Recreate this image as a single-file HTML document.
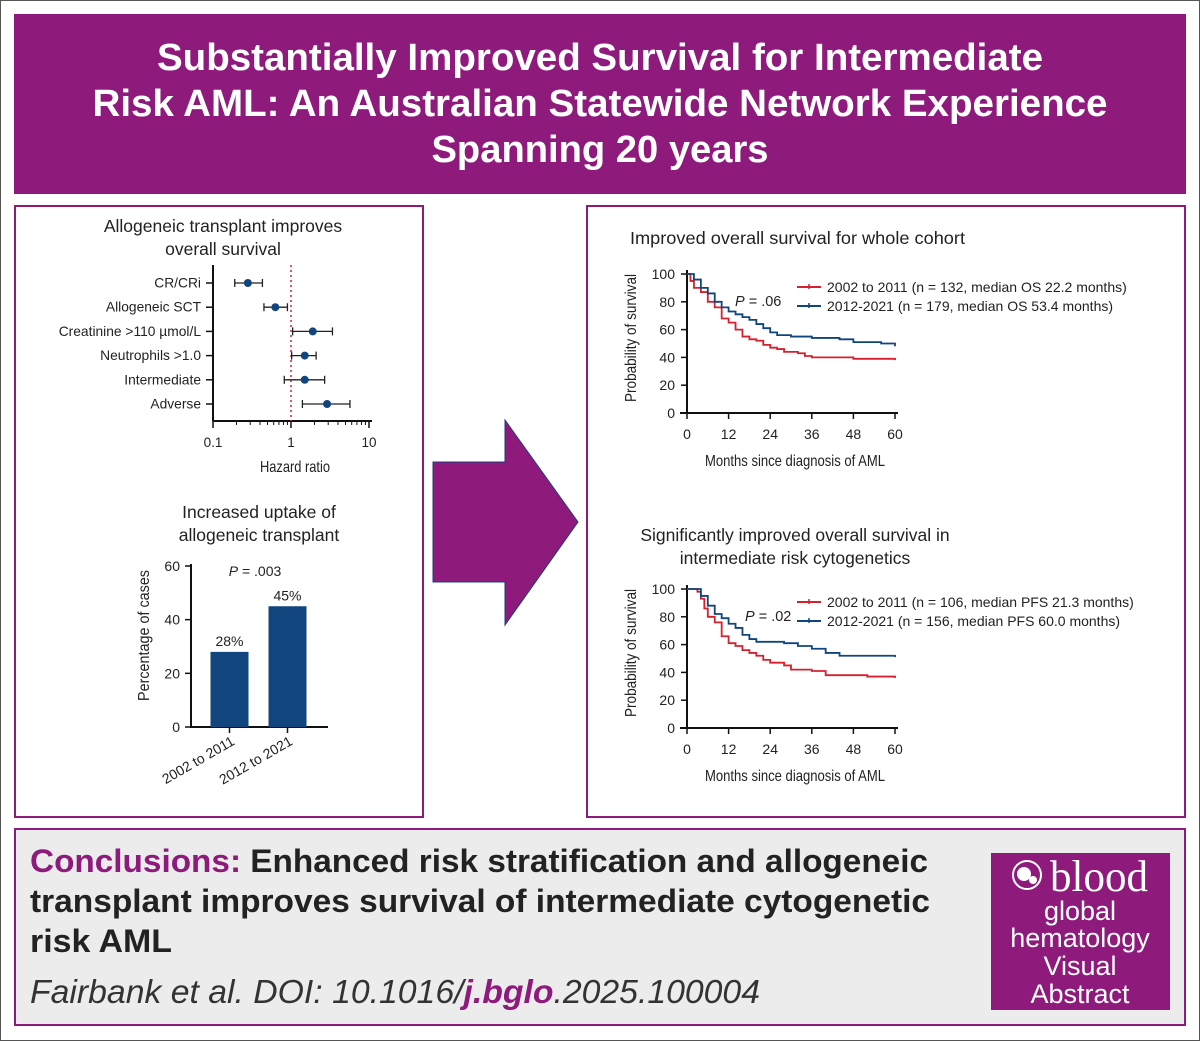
<!DOCTYPE html>
<html><head><meta charset="utf-8"><style>
html,body{margin:0;padding:0;background:#fff}
svg{display:block}
text{font-family:"Liberation Sans",sans-serif}
</style></head><body>
<svg id="s" width="1200" height="1041" viewBox="0 0 1200 1041" xmlns="http://www.w3.org/2000/svg">
<rect x="0.5" y="0.5" width="1199" height="1040" fill="#fff" stroke="#555"/>
<g>
<rect x="14" y="14" width="1172" height="180" fill="#8e1a7c"/>
<text x="600" y="70" text-anchor="middle" font-size="38" font-weight="bold" fill="#fff" textLength="886" lengthAdjust="spacingAndGlyphs">Substantially Improved Survival for Intermediate</text>
<text x="600" y="116" text-anchor="middle" font-size="38" font-weight="bold" fill="#fff" textLength="1015" lengthAdjust="spacingAndGlyphs">Risk AML: An Australian Statewide Network Experience</text>
<text x="600" y="162" text-anchor="middle" font-size="38" font-weight="bold" fill="#fff" textLength="337" lengthAdjust="spacingAndGlyphs">Spanning 20 years</text>
</g>
<rect x="15" y="206" width="408" height="611" fill="none" stroke="#8e1a7c" stroke-width="2"/>
<rect x="587" y="206" width="598" height="611" fill="none" stroke="#8e1a7c" stroke-width="2"/>
<path d="M433 462 H505 V420 L578 522 L505 625 V582 H433 Z" fill="#8e1a7c" stroke="#1a3f7a" stroke-width="1"/>

<g>
<text x="223" y="232" text-anchor="middle" font-size="17.5" fill="#222">Allogeneic transplant improves</text>
<text x="223" y="255" text-anchor="middle" font-size="17.5" fill="#222">overall survival</text>
<g id="forest"></g>
<text x="260" y="472" font-size="16" fill="#222" textLength="70" lengthAdjust="spacingAndGlyphs">Hazard ratio</text>
</g>

<g>
<text x="259" y="518" text-anchor="middle" font-size="17.5" fill="#222">Increased uptake of</text>
<text x="259" y="541" text-anchor="middle" font-size="17.5" fill="#222">allogeneic transplant</text>
<g id="bars"></g>
<text x="255" y="576" text-anchor="middle" font-size="14" fill="#222"><tspan font-style="italic">P</tspan> = .003</text>
<text transform="translate(149,701) rotate(-90)" font-size="16" fill="#222" textLength="131" lengthAdjust="spacingAndGlyphs">Percentage of cases</text>
</g>

<g>
<text x="630" y="244" font-size="17.5" fill="#222" textLength="335" lengthAdjust="spacingAndGlyphs">Improved overall survival for whole cohort</text>
<g id="km1"></g>
</g>
<g>
<text x="795" y="541" text-anchor="middle" font-size="17.5" fill="#222">Significantly improved overall survival in</text>
<text x="795" y="564" text-anchor="middle" font-size="17.5" fill="#222">intermediate risk cytogenetics</text>
<g id="km2"></g>
</g>

<g>
<rect x="15" y="829" width="1170" height="196" fill="#ececec" stroke="#8e1a7c" stroke-width="2"/>
<text x="30" y="872" font-size="32" font-weight="bold" fill="#222" textLength="898" lengthAdjust="spacingAndGlyphs"><tspan fill="#8e1a7c">Conclusions:</tspan> Enhanced risk stratification and allogeneic</text>
<text x="30" y="912" font-size="32" font-weight="bold" fill="#222" textLength="900" lengthAdjust="spacingAndGlyphs">transplant improves survival of intermediate cytogenetic</text>
<text x="30" y="952" font-size="32" font-weight="bold" fill="#222" textLength="142" lengthAdjust="spacingAndGlyphs">risk AML</text>
<text x="30" y="1003" font-size="33" font-style="italic" fill="#333" textLength="730" lengthAdjust="spacingAndGlyphs">Fairbank et al. DOI: 10.1016/<tspan font-weight="bold" fill="#8e1a7c">j.bglo</tspan>.2025.100004</text>
</g>
<g>
<rect x="991" y="853" width="179" height="157" fill="#8e1a7c"/>
<circle cx="1027" cy="875" r="14" fill="none" stroke="#fff" stroke-width="2"/>
<circle cx="1024" cy="874" r="7" fill="#fff"/>
<circle cx="1033" cy="880" r="4" fill="#fff"/>
<text x="1050" y="891" font-size="44" fill="#fff" style="font-family:'Liberation Serif',serif" textLength="98" lengthAdjust="spacingAndGlyphs">blood</text>
<text x="1080" y="920" text-anchor="middle" font-size="27" fill="#fff">global</text>
<text x="1080" y="947" text-anchor="middle" font-size="27" fill="#fff">hematology</text>
<text x="1080" y="975" text-anchor="middle" font-size="27" fill="#fff">Visual</text>
<text x="1080" y="1003" text-anchor="middle" font-size="27" fill="#fff">Abstract</text>
</g>
</svg>
<script>
const NS='http://www.w3.org/2000/svg';
function mk(parent,tag,attrs,txt){const e=document.createElementNS(NS,tag);for(const k in attrs)e.setAttribute(k,attrs[k]);if(txt!==undefined)e.textContent=txt;parent.appendChild(e);return e;}

// forest data
const forestLabels=['CR/CRi','Allogeneic SCT','Creatinine >110 µmol/L','Neutrophils >1.0','Intermediate','Adverse'];
const forestHR=[0.28,0.63,1.9,1.5,1.5,2.9];
const forestLo=[0.19,0.45,1.05,1.02,0.82,1.4];
const forestHi=[0.43,0.9,3.4,2.1,2.7,5.7];
const forestTicks=[0.1,1,10];

// bar data
const barCats=['2002 to 2011','2012 to 2021'];
const barVals=[28,45];
const barTicks=[0,20,40,60];

// KM data
const kmTicksX=[0,12,24,36,48,60];
const kmTicksY=[0,20,40,60,80,100];
const km1RedT=[0,1,2,4,6,8,10,12,14,16,18,20,22,24,26,28,32,34,36,48,60];
const km1RedS=[100,95,90,87,80,76,68,65,60,55,53,52,49,47,46,44,43,41,40,39,38];
const km1BlueT=[0,2,4,6,8,10,12,14,16,18,20,22,24,26,30,36,44,48,56,60];
const km1BlueS=[100,96,90,86,80,76,73,71,69,67,64,61,58,56,55,54,53,51,50,48];
const km2RedT=[0,3,4,5,6,8,10,12,14,16,18,20,22,24,28,30,36,40,52,60];
const km2RedS=[100,98,93,86,80,76,66,61,59,56,54,52,49,47,45,42,41,38,37,36];
const km2BlueT=[0,2,4,6,8,10,12,14,16,18,20,28,32,36,40,44,60];
const km2BlueS=[100,100,95,88,82,79,75,72,67,64,62,61,59,57,54,52,51];

// forest plot
(function(){
  const g=document.getElementById('forest');
  const x=v=>213+(Math.log10(v)+1)*78;
  const rowY=i=>283+i*24.2;
  mk(g,'line',{x1:213,y1:265,x2:213,y2:421,stroke:'#111','stroke-width':2});
  mk(g,'line',{x1:213,y1:421,x2:372,y2:421,stroke:'#111','stroke-width':2});
  mk(g,'line',{x1:x(1),y1:265,x2:x(1),y2:421,stroke:'#d02030','stroke-width':1.5,'stroke-dasharray':'2,3'});
  for(let d=0;d<2;d++)for(let m=2;m<=9;m++){const v=Math.pow(10,d-1)*m;mk(g,'line',{x1:x(v),y1:421,x2:x(v),y2:425,stroke:'#111'});}
  forestTicks.forEach(t=>{
    mk(g,'line',{x1:x(t),y1:421,x2:x(t),y2:428,stroke:'#111','stroke-width':1.5});
    const tl=mk(g,'text',{x:x(t),y:447,'text-anchor':'middle','font-size':13.5,fill:'#222'},String(t));
    
    
  });
  forestLabels.forEach((l,i)=>{
    const y=rowY(i);
    mk(g,'line',{x1:206,y1:y,x2:213,y2:y,stroke:'#111','stroke-width':1.5});
    const t=mk(g,'text',{x:201,y:y+4.5,'text-anchor':'end','font-size':13.8,fill:'#222'},l);
    
    
    const eb=mk(g,'g',{});
    
    
    mk(eb,'line',{x1:x(forestLo[i]),y1:y,x2:x(forestHi[i]),y2:y,stroke:'#222','stroke-width':1.3});
    mk(eb,'line',{x1:x(forestLo[i]),y1:y-4,x2:x(forestLo[i]),y2:y+4,stroke:'#222','stroke-width':1.3});
    mk(eb,'line',{x1:x(forestHi[i]),y1:y-4,x2:x(forestHi[i]),y2:y+4,stroke:'#222','stroke-width':1.3});
    mk(eb,'circle',{cx:x(forestHR[i]),cy:y,r:4,fill:'#11457e'});
  });
})();

// bar chart
(function(){
  const g=document.getElementById('bars');
  const y=v=>727-v*(161/60);
  mk(g,'line',{x1:191,y1:564,x2:191,y2:728,stroke:'#111','stroke-width':2});
  mk(g,'line',{x1:190,y1:727,x2:328,y2:727,stroke:'#111','stroke-width':2});
  barTicks.forEach(t=>{
    mk(g,'line',{x1:185,y1:y(t),x2:191,y2:y(t),stroke:'#111','stroke-width':1.5});
    const tl=mk(g,'text',{x:180,y:y(t)+5,'text-anchor':'end','font-size':14,fill:'#222'},String(t));
    
    
  });
  barCats.forEach((c,i)=>{
    const cx=229.5+i*58;
    const r=mk(g,'rect',{x:cx-19,y:y(barVals[i]),width:38,height:727-y(barVals[i]),fill:'#11457e'});
    
    
    const vl=mk(g,'text',{x:cx,y:y(barVals[i])-6,'text-anchor':'middle','font-size':14,fill:'#222'},barVals[i]+'%');
    
    
    mk(g,'line',{x1:cx,y1:727,x2:cx,y2:733,stroke:'#111','stroke-width':1.5});
    const cl=mk(g,'text',{x:cx+6,y:744,'text-anchor':'end','font-size':14,fill:'#222',transform:`rotate(-30 ${cx+6} 744)`},c);
    
    
  });
})();

// KM charts
function km(id,top,series,pX,pLabel,legendY){
  const g=document.getElementById(id);
  const x=t=>687+t*(208/60);
  const y=s=>top+139-s*1.39;
  mk(g,'line',{x1:687,y1:top-4,x2:687,y2:top+140,stroke:'#111','stroke-width':2});
  mk(g,'line',{x1:680,y1:top+139,x2:898,y2:top+139,stroke:'#111','stroke-width':2});
  kmTicksY.forEach(t=>{
    mk(g,'line',{x1:681,y1:y(t),x2:687,y2:y(t),stroke:'#111','stroke-width':1.5});
    const tl=mk(g,'text',{x:675,y:y(t)+5,'text-anchor':'end','font-size':14,fill:'#222'},String(t));
    
    
  });
  kmTicksX.forEach(t=>{
    mk(g,'line',{x1:x(t),y1:top+139,x2:x(t),y2:top+145,stroke:'#111','stroke-width':1.5});
    const tl=mk(g,'text',{x:x(t),y:top+165,'text-anchor':'middle','font-size':14,fill:'#222'},String(t));
    
    
  });
  const xt=mk(g,'text',{x:705,y:top+192,'font-size':16,fill:'#222',textLength:180,lengthAdjust:'spacingAndGlyphs'},'Months since diagnosis of AML');
  
  
  const yt=mk(g,'text',{transform:`translate(636,${top+128}) rotate(-90)`,'font-size':16,fill:'#222',textLength:128,lengthAdjust:'spacingAndGlyphs'},'Probability of survival');
  
  
  series.forEach((s,k)=>{
    let d=`M${x(s.t[0])},${y(s.s[0])}`;
    for(let i=1;i<s.t.length;i++){d+=` H${x(s.t[i])} V${y(s.s[i])}`;}
    const p=mk(g,'path',{d:d,fill:'none',stroke:s.c,'stroke-width':1.8});
    
    
    const ly=legendY+k*19;
    mk(g,'line',{x1:797,y1:ly,x2:821,y2:ly,stroke:s.c,'stroke-width':2});
    mk(g,'line',{x1:809,y1:ly-3,x2:809,y2:ly+2,stroke:s.c,'stroke-width':1.5});
    const lt=mk(g,'text',{x:827,y:ly+5,'font-size':14,fill:'#222'},s.label);
    
    
  });
  const pt=mk(g,'text',{x:pX,y:top+32,'font-size':14.5,fill:'#222'});
  pt.innerHTML='<tspan font-style="italic">P</tspan> = '+pLabel;
}
km('km1',274,[
 {t:km1RedT,s:km1RedS,c:'#d6202e',name:'km1-series-2002-2011',label:'2002 to 2011 (n = 132, median OS 22.2 months)'},
 {t:km1BlueT,s:km1BlueS,c:'#11457e',name:'km1-series-2012-2021',label:'2012-2021 (n = 179, median OS 53.4 months)'}],735,'.06',287);
km('km2',589,[
 {t:km2RedT,s:km2RedS,c:'#d6202e',name:'km2-series-2002-2011',label:'2002 to 2011 (n = 106, median PFS 21.3 months)'},
 {t:km2BlueT,s:km2BlueS,c:'#11457e',name:'km2-series-2012-2021',label:'2012-2021 (n = 156, median PFS 60.0 months)'}],745,'.02',602);
</script>
</body></html>
